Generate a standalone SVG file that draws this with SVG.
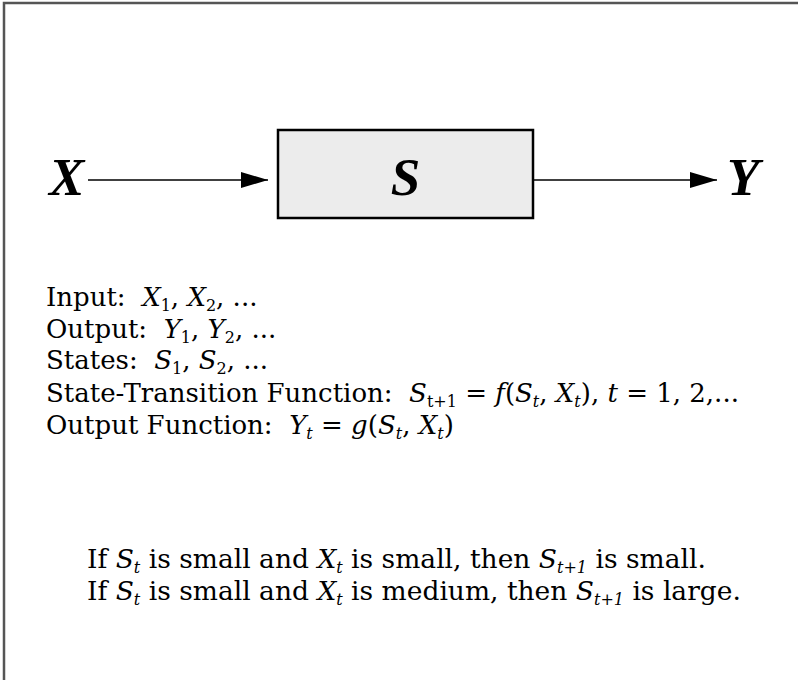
<svg xmlns="http://www.w3.org/2000/svg" width="798" height="680" viewBox="0 0 798 680">
<style>
.t{font-family:"DejaVu Serif","Liberation Serif",serif;font-size:26px;fill:#000;white-space:pre}
.r{font-size:26.5px}
.i{font-style:italic}
.s{font-size:16px}
.big{font-family:"Liberation Serif",serif;font-weight:bold;font-style:italic;font-size:53px;fill:#000}
.conn{stroke:#000;stroke-width:1.5;fill:none}
</style>
<defs>
<marker id="ah" markerUnits="userSpaceOnUse" markerWidth="28" markerHeight="18" refX="27" refY="8" orient="auto">
<path d="M0,0 L27,8 L0,16 Z" fill="#000"/>
</marker>
</defs>
<rect width="798" height="680" fill="#fff"/>
<path d="M4,680 V3 H798" fill="none" stroke="#555" stroke-width="2.5"/>
<g id="connectors">
<line class="conn" x1="88" y1="180" x2="268" y2="180" marker-end="url(#ah)"/>
<line class="conn" x1="533" y1="180" x2="717" y2="180" marker-end="url(#ah)"/>
</g>
<g id="nodeX"><text class="big" x="49" y="195">X</text></g>
<g id="nodeS">
<rect x="278" y="130" width="255" height="88" fill="#ececec" stroke="#000" stroke-width="2.5"/>
<text class="big" x="405.5" y="195" text-anchor="middle">S</text>
</g>
<g id="nodeY"><text class="big" x="727" y="195">Y</text></g>
<g id="text">
<text class="t" x="46" y="306">Input:  <tspan class="i">X</tspan><tspan class="s" dy="5">1</tspan><tspan dy="-5">, </tspan><tspan class="i">X</tspan><tspan class="s" dy="5">2</tspan><tspan dy="-5">, ...</tspan></text>
<text class="t" x="46" y="338">Output:  <tspan class="i">Y</tspan><tspan class="s" dy="5">1</tspan><tspan dy="-5">, </tspan><tspan class="i">Y</tspan><tspan class="s" dy="5">2</tspan><tspan dy="-5">, ...</tspan></text>
<text class="t" x="46" y="369">States:  <tspan class="i">S</tspan><tspan class="s" dy="5">1</tspan><tspan dy="-5">, </tspan><tspan class="i">S</tspan><tspan class="s" dy="5">2</tspan><tspan dy="-5">, ...</tspan></text>
<text class="t" x="46" y="402">State-Transition Function:  <tspan class="i">S</tspan><tspan class="s" dy="5">t+1</tspan><tspan dy="-5"> = </tspan><tspan class="i">f</tspan>(<tspan class="i">S</tspan><tspan class="s i" dy="5">t</tspan><tspan dy="-5">, </tspan><tspan class="i">X</tspan><tspan class="s i" dy="5">t</tspan><tspan dy="-5">), </tspan><tspan class="i">t</tspan> = 1, 2,...</text>
<text class="t" x="46" y="434">Output Function:  <tspan class="i">Y</tspan><tspan class="s i" dy="5">t</tspan><tspan dy="-5"> = </tspan><tspan class="i">g</tspan>(<tspan class="i">S</tspan><tspan class="s i" dy="5">t</tspan><tspan dy="-5">, </tspan><tspan class="i">X</tspan><tspan class="s i" dy="5">t</tspan><tspan dy="-5">)</tspan></text>
<text class="t r" x="87" y="568">If <tspan class="i">S</tspan><tspan class="s i" dy="5">t</tspan><tspan dy="-5"> is small and </tspan><tspan class="i">X</tspan><tspan class="s i" dy="5">t</tspan><tspan dy="-5"> is small, then </tspan><tspan class="i">S</tspan><tspan class="s i" dy="5">t+1</tspan><tspan dy="-5"> is small.</tspan></text>
<text class="t r" x="87" y="600">If <tspan class="i">S</tspan><tspan class="s i" dy="5">t</tspan><tspan dy="-5"> is small and </tspan><tspan class="i">X</tspan><tspan class="s i" dy="5">t</tspan><tspan dy="-5"> is medium, then </tspan><tspan class="i">S</tspan><tspan class="s i" dy="5">t+1</tspan><tspan dy="-5"> is large.</tspan></text>
</g>
</svg>
